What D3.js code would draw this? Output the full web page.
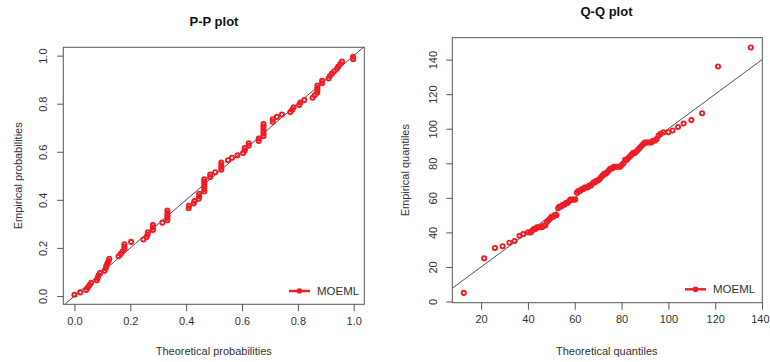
<!DOCTYPE html>
<html>
<head>
<meta charset="utf-8">
<script src="https://cdn.jsdelivr.net/npm/d3@7"></script>
<style>
  html, body { margin: 0; padding: 0; background: #fff; }
  svg { display: block; font-family: "Liberation Sans", Arial, sans-serif; }
</style>
</head>
<body>
<svg id="chart" width="770" height="362"></svg>
<script>
// P-P plot: fitted CDF at each ordered observation vs. plotting position
const ppTheoretical = [
  0.000, 0.021, 0.042, 0.048, 0.054, 0.060, 0.080, 0.083, 0.086, 0.092,
  0.108, 0.112, 0.114, 0.118, 0.122, 0.125, 0.158, 0.166, 0.172, 0.179,
  0.179, 0.179, 0.203, 0.247, 0.258, 0.262, 0.263, 0.281, 0.281, 0.281,
  0.315, 0.333, 0.333, 0.333, 0.333, 0.333, 0.409, 0.410, 0.427, 0.430,
  0.445, 0.447, 0.447, 0.465, 0.465, 0.465, 0.465, 0.465, 0.465, 0.486,
  0.486, 0.504, 0.526, 0.526, 0.526, 0.526, 0.550, 0.564, 0.584, 0.604,
  0.610, 0.610, 0.624, 0.624, 0.660, 0.660, 0.677, 0.677, 0.677, 0.677,
  0.677, 0.677, 0.710, 0.710, 0.725, 0.743, 0.773, 0.780, 0.785, 0.805,
  0.809, 0.823, 0.853, 0.860, 0.869, 0.870, 0.870, 0.870, 0.887, 0.887,
  0.910, 0.915, 0.922, 0.930, 0.940, 0.945, 0.952, 0.958, 0.998, 0.998
];
const ppEmpirical = [
  0.005, 0.015, 0.025, 0.035, 0.045, 0.055, 0.065, 0.075, 0.085, 0.095,
  0.105, 0.115, 0.125, 0.135, 0.145, 0.155, 0.165, 0.175, 0.185, 0.195,
  0.205, 0.215, 0.225, 0.235, 0.245, 0.255, 0.265, 0.275, 0.285, 0.295,
  0.305, 0.315, 0.325, 0.335, 0.345, 0.355, 0.365, 0.375, 0.385, 0.395,
  0.405, 0.415, 0.425, 0.435, 0.445, 0.455, 0.465, 0.475, 0.485, 0.495,
  0.505, 0.515, 0.525, 0.535, 0.545, 0.555, 0.565, 0.575, 0.585, 0.595,
  0.605, 0.615, 0.625, 0.635, 0.645, 0.655, 0.665, 0.675, 0.685, 0.695,
  0.705, 0.715, 0.725, 0.735, 0.745, 0.755, 0.765, 0.775, 0.785, 0.795,
  0.805, 0.815, 0.825, 0.835, 0.845, 0.855, 0.865, 0.875, 0.885, 0.895,
  0.905, 0.915, 0.925, 0.935, 0.945, 0.955, 0.965, 0.975, 0.985, 0.995
];

// Q-Q plot: fitted quantiles vs. ordered sample
const qqTheoretical = [
  12.6, 21.3, 25.9, 29.2, 32.1, 34.3, 36.4, 38.0, 40.1, 41.2,
  41.8, 42.5, 43.2, 43.9, 44.6, 45.3, 46.0, 46.7, 47.4, 48.1,
  48.8, 49.5, 50.1, 50.8, 51.5, 52.2, 52.9, 53.5, 54.2, 54.9,
  55.5, 56.2, 56.9, 57.5, 58.2, 58.9, 59.5, 60.2, 60.9, 61.5,
  62.2, 62.9, 63.5, 64.2, 64.8, 65.5, 66.1, 66.8, 67.4, 68.1,
  68.7, 69.4, 70.0, 70.7, 71.3, 72.0, 72.7, 73.3, 74.0, 74.6,
  75.3, 76.0, 76.7, 77.3, 78.0, 78.7, 79.4, 80.1, 80.8, 81.5,
  82.2, 82.9, 83.6, 84.3, 85.0, 85.7, 86.4, 87.1, 87.8, 88.5,
  89.2, 89.9, 90.6, 91.3, 92.0, 92.7, 93.4, 94.2, 95.0, 95.8,
  96.7, 97.9, 100.0, 101.8, 104.1, 106.5, 109.8, 114.4, 121.2, 135.2
];
const qqEmpirical = [
  5, 25, 31, 32, 34, 35, 38, 39, 40, 40,
  41, 42, 42, 43, 43, 43, 43, 44, 44, 46,
  47, 48, 49, 49, 50, 50, 54, 55, 55, 56,
  56, 57, 57, 58, 59, 59, 59, 59, 63, 64,
  64, 65, 65, 66, 66, 66, 67, 67, 68, 69,
  69, 70, 70, 71, 72, 73, 74, 74, 75, 76,
  77, 77, 78, 78, 78, 78, 78, 79, 80, 82,
  82, 83, 84, 85, 86, 86, 87, 88, 89, 90,
  91, 92, 92, 92, 92, 92, 93, 93, 94, 96,
  97, 98, 98, 99, 101, 103, 105, 109, 136, 147
];

const ppXTicks = [0, 0.2, 0.4, 0.6, 0.8, 1.0];
const ppYTicks = [0, 0.2, 0.4, 0.6, 0.8, 1.0];
const qqXTicks = [20, 40, 60, 80, 100, 120, 140];
const qqYTicks = [0, 20, 40, 60, 80, 100, 120, 140];
const legendLabel = "MOEML";

const WIDTH = 770;
const RED = "#ee1d24";
const INK = "#333";
const svg = d3.select("#chart");

// R-style axis range: data range widened by 4% on each side
function padded(values) {
  const [lo, hi] = d3.extent(values);
  const d = (hi - lo) * 0.04;
  return [lo - d, hi + d];
}

function panel(cfg) {
  const { box, xs, ys, xTicks, yTicks, xFmt, yFmt, title, xLab, yLab, id } = cfg;
  const x = d3.scaleLinear().domain(padded(xs)).range([box.left, box.right]);
  const y = d3.scaleLinear().domain(padded(ys)).range([box.bottom, box.top]);
  const g = svg.append("g");

  g.append("defs").append("clipPath").attr("id", id)
    .append("rect")
    .attr("x", box.left).attr("y", box.top)
    .attr("width", box.right - box.left).attr("height", box.bottom - box.top);

  // bottom axis
  const xAxis = d3.axisBottom(x).tickValues(xTicks).tickFormat(xFmt)
    .tickSizeInner(7).tickSizeOuter(0).tickPadding(6);
  const gx = g.append("g").attr("transform", `translate(0,${box.bottom})`).call(xAxis);
  gx.select(".domain").remove();
  gx.selectAll(".tick line").attr("stroke", "#555");
  gx.selectAll(".tick text")
    .attr("fill", INK).attr("font-size", 11)
    .attr("font-family", "Liberation Sans, Arial, sans-serif")
    .each(function (d) {
      // keep a label that would run past the right edge inside the page
      const w = this.getComputedTextLength();
      const over = x(d) + w / 2 - (WIDTH - 1);
      if (over > 0) d3.select(this).attr("x", -over);
    });

  // left axis, labels parallel to the axis
  const yAxis = d3.axisLeft(y).tickValues(yTicks).tickFormat(yFmt)
    .tickSizeInner(6).tickSizeOuter(0).tickPadding(0);
  const gy = g.append("g").attr("transform", `translate(${box.left},0)`).call(yAxis);
  gy.select(".domain").remove();
  gy.selectAll(".tick line").attr("stroke", "#555");
  gy.selectAll(".tick text")
    .attr("fill", INK).attr("font-size", 11)
    .attr("font-family", "Liberation Sans, Arial, sans-serif")
    .attr("x", 0).attr("dy", 0)
    .attr("text-anchor", "middle")
    .attr("dominant-baseline", "central")
    .attr("transform", `translate(${cfg.yTickX - box.left},0) rotate(-90)`);

  // reference line y = x
  const [x0, x1] = x.domain();
  const lo = Math.min(x0, y.domain()[0]) - 10, hi = Math.max(x1, y.domain()[1]) + 10;
  g.append("line")
    .attr("clip-path", `url(#${id})`)
    .attr("x1", x(lo)).attr("y1", y(lo))
    .attr("x2", x(hi)).attr("y2", y(hi))
    .attr("stroke", "#222").attr("stroke-width", 0.8);

  // observations
  g.append("g").selectAll("circle")
    .data(xs.map((v, i) => [v, ys[i]]))
    .join("circle")
    .attr("cx", d => x(d[0])).attr("cy", d => y(d[1]))
    .attr("r", 2.1)
    .attr("fill", "none").attr("stroke", RED).attr("stroke-width", 1.9);

  // frame
  g.append("rect")
    .attr("x", box.left).attr("y", box.top)
    .attr("width", box.right - box.left).attr("height", box.bottom - box.top)
    .attr("fill", "none").attr("stroke", "#555").attr("stroke-width", 1);

  // titles
  g.append("text")
    .attr("x", cfg.titleX).attr("y", cfg.titleY)
    .attr("text-anchor", "middle").attr("dominant-baseline", "central")
    .attr("font-size", 13).attr("font-weight", "bold").attr("fill", "#111")
    .text(title);
  g.append("text")
    .attr("x", (box.left + box.right) / 2 + cfg.xLabShift).attr("y", 351)
    .attr("text-anchor", "middle").attr("dominant-baseline", "central")
    .attr("font-size", 11).attr("fill", INK)
    .text(xLab);
  g.append("text")
    .attr("transform", `translate(${cfg.yLabX},${(box.top + box.bottom) / 2}) rotate(-90)`)
    .attr("text-anchor", "middle").attr("dominant-baseline", "central")
    .attr("font-size", 11).attr("fill", INK)
    .text(yLab);

  // legend
  const lg = g.append("g").attr("transform", `translate(${cfg.legX},${cfg.legY})`);
  lg.append("line").attr("x1", 0).attr("x2", 21).attr("y1", 0).attr("y2", 0)
    .attr("stroke", RED).attr("stroke-width", 2.4);
  lg.append("circle").attr("cx", 10.5).attr("cy", 0).attr("r", 2.8).attr("fill", RED);
  lg.append("text").attr("x", 28).attr("y", 0)
    .attr("dominant-baseline", "central")
    .attr("font-size", 11.5).attr("fill", INK)
    .text(legendLabel);
}

panel({
  id: "clip-pp",
  box: { left: 63.3, right: 364.3, top: 47.3, bottom: 304.3 },
  xs: ppTheoretical, ys: ppEmpirical,
  xTicks: ppXTicks, yTicks: ppYTicks,
  xFmt: d3.format(".1f"), yFmt: d3.format(".1f"),
  title: "P-P plot", titleX: 214, titleY: 21.5,
  xLab: "Theoretical probabilities", xLabShift: 0,
  yLab: "Empirical probabilities", yLabX: 18, yTickX: 43,
  legX: 289, legY: 291
});

panel({
  id: "clip-qq",
  box: { left: 452.3, right: 762.3, top: 37.7, bottom: 302.7 },
  xs: qqTheoretical, ys: qqEmpirical,
  xTicks: qqXTicks, yTicks: qqYTicks,
  xFmt: d3.format("d"), yFmt: d3.format("d"),
  title: "Q-Q plot", titleX: 606.5, titleY: 11.5,
  xLab: "Theoretical quantiles", xLabShift: -0.5,
  yLab: "Empirical quantiles", yLabX: 405, yTickX: 432.7,
  legX: 685, legY: 289.3
});
</script>
</body>
</html>
